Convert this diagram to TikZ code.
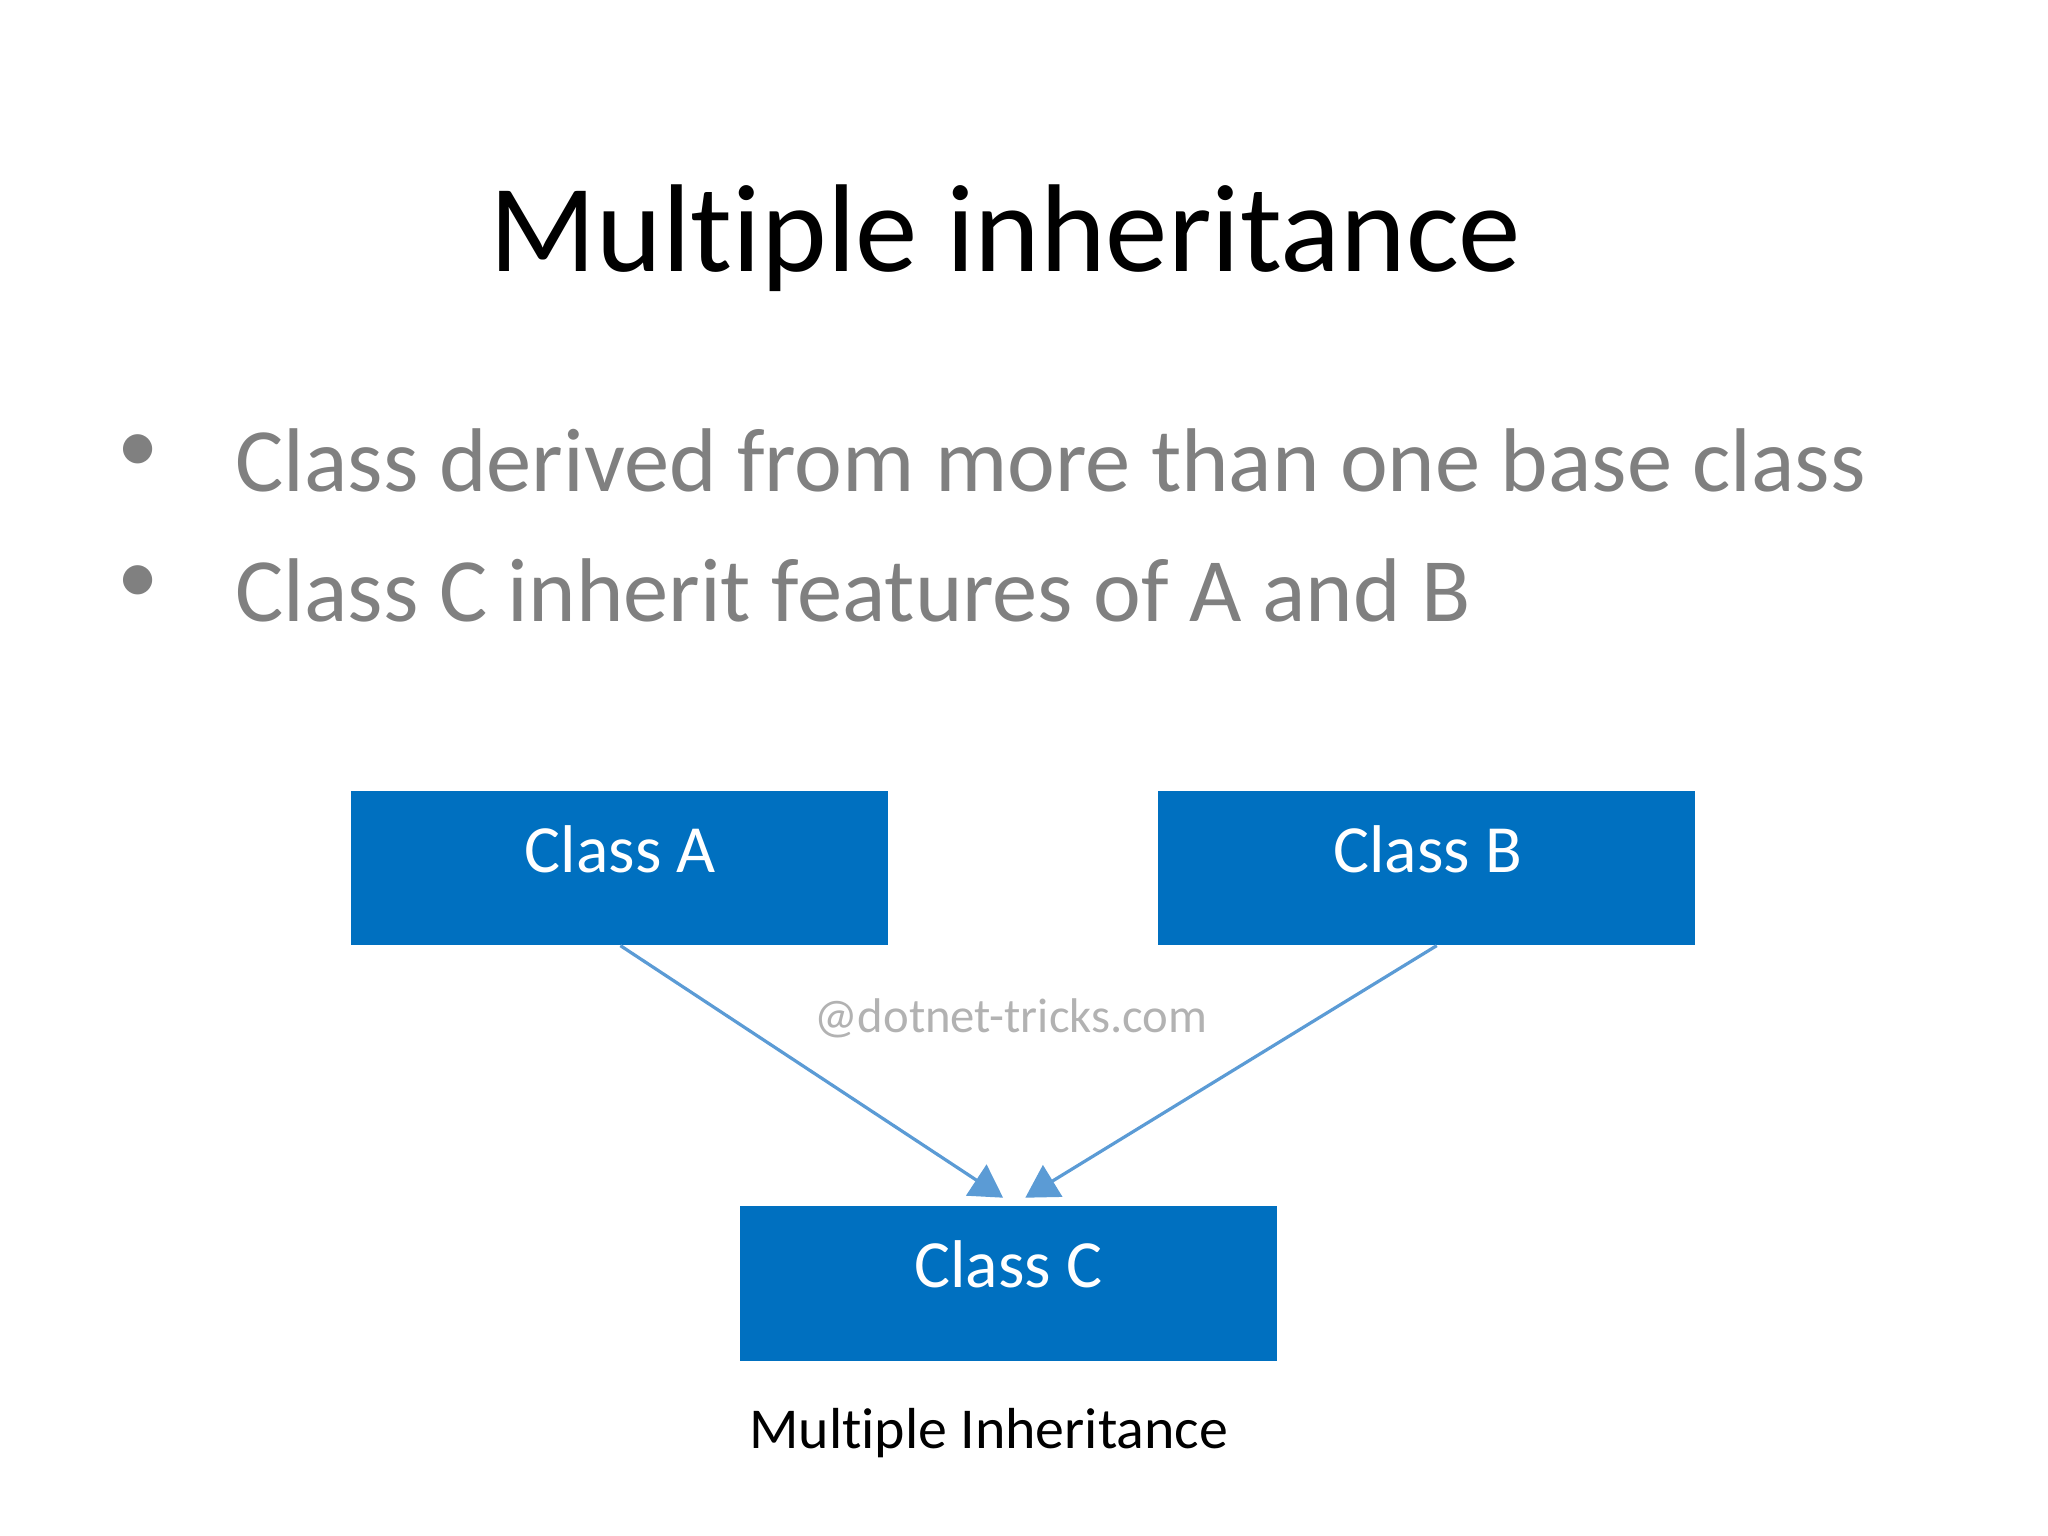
\documentclass[tikz,border=0pt]{standalone}
\usepackage{fontspec}
\setmainfont{Carlito}[Ligatures=NoCommon]
\usetikzlibrary{arrows.meta}
\definecolor{boxblue}{HTML}{0070C0}
\definecolor{arrblue}{HTML}{5B9BD5}
\definecolor{bulgray}{HTML}{808080}
\begin{document}
\begin{tikzpicture}[x=0.01cm,y=-0.01cm,
  cls/.style={fill=boxblue,draw=none,minimum width=4.11cm,minimum height=1.18cm,anchor=north west,inner sep=0pt},
  clslabel/.style={text=white,font=\fontsize{14.7}{17}\selectfont},
  inh/.style={draw=arrblue,line width=0.7pt,-{Triangle[length=7pt,width=8pt]}}]
\useasboundingbox (0,0) rectangle (1568,1176);
\node (title) at (770,182) {\fontsize{27.2}{32}\selectfont Multiple inheritance};
\node[anchor=base west,text=bulgray] (b1) at (168,376) {\fontsize{19.7}{24}\selectfont Class derived from more than one base class};
\node[anchor=base west,text=bulgray] (b2) at (168,476) {\fontsize{19.7}{24}\selectfont Class C inherit features of A and B};
\node[anchor=base,text=bulgray] (d1) at (106,362) {\fontsize{18}{22}\selectfont •};
\node[anchor=base,text=bulgray] (d2) at (106,462) {\fontsize{18}{22}\selectfont •};
\node[cls] (A) at (268,605) {};
\node[cls] (B) at (886,605) {};
\node[cls] (C) at (566,923) {};
\node[clslabel] (la) at (475,650) {Class A};
\node[clslabel] (lb) at (1093,650) {Class B};
\node[clslabel] (lc) at (772,968) {Class C};
\coordinate (a1) at (475,724);
\coordinate (b1e) at (1100,724);
\coordinate (c1) at (768,917);
\coordinate (c2) at (785,917);
\draw[inh] (a1) -- (c1);
\draw[inh] (b1e) -- (c2);
\node[text=black!30] (wm) at (774,780) {\fontsize{10.6}{13}\selectfont @dotnet-tricks.com};
\node (cap) at (757,1097) {\fontsize{12.6}{15}\selectfont Multiple Inheritance};
\end{tikzpicture}
\end{document}
